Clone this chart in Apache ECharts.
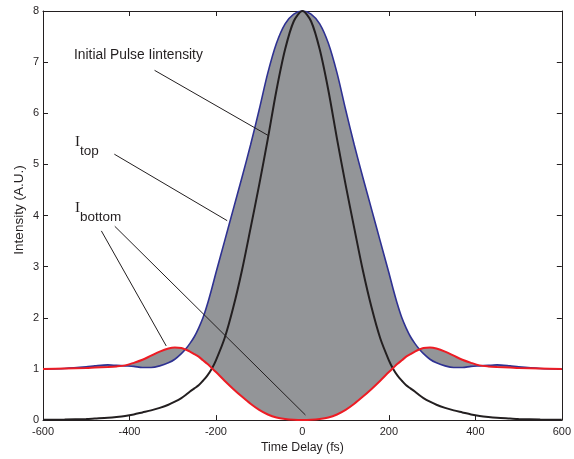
<!DOCTYPE html>
<html>
<head>
<meta charset="utf-8">
<script src="https://cdn.jsdelivr.net/npm/echarts@6/dist/echarts.min.js"></script>
<style>
html,body{margin:0;padding:0;background:#fff;}
#chart{width:574px;height:459px;}
</style>
</head>
<body>
<div id="chart"></div>
<script>
// Time delay samples (fs)
const timeFs = [-600,-550,-500,-480,-450,-430,-410,-390,-370,-350,-330,-310,-295,-280,-270,-260,-250,-240,-230,-220,-210,-200,-180,-160,-140,-120,-100,-80,-60,-40,-20,
  0,
  20,40,60,80,100,120,140,160,180,200,210,220,230,240,250,260,270,280,295,310,330,350,370,390,410,430,450,480,500,550,600];

// Upper envelope I_top (blue)
const iTop = [1.00,1.01,1.04,1.06,1.08,1.07,1.06,1.05,1.03,1.03,1.06,1.12,1.19,1.30,1.39,1.50,1.63,1.80,2.00,2.26,2.56,2.88,3.50,4.12,4.74,5.38,6.07,6.79,7.37,7.75,7.94,
  8.00,
  7.94,7.75,7.37,6.79,6.07,5.38,4.74,4.12,3.50,2.88,2.56,2.26,2.00,1.80,1.63,1.50,1.39,1.30,1.19,1.12,1.06,1.03,1.03,1.05,1.06,1.07,1.08,1.06,1.04,1.01,1.00];

// Lower envelope I_bottom (red)
const iBottom = [1.00,1.01,1.02,1.03,1.04,1.05,1.07,1.12,1.18,1.26,1.34,1.40,1.42,1.41,1.38,1.34,1.29,1.24,1.17,1.10,1.02,0.94,0.77,0.61,0.46,0.32,0.20,0.11,0.05,0.02,0.005,
  0.00,
  0.005,0.02,0.05,0.11,0.20,0.32,0.46,0.61,0.77,0.94,1.02,1.10,1.17,1.24,1.29,1.34,1.38,1.41,1.42,1.40,1.34,1.26,1.18,1.12,1.07,1.05,1.04,1.03,1.02,1.01,1.00];

// Initial pulse intensity (black)
const pulse = [0.005,0.01,0.02,0.03,0.045,0.06,0.08,0.11,0.15,0.19,0.24,0.30,0.36,0.43,0.49,0.56,0.62,0.68,0.77,0.87,1.00,1.17,1.60,2.20,2.92,3.75,4.60,5.50,6.45,7.25,7.80,
  8.00,
  7.80,7.25,6.45,5.50,4.60,3.75,2.92,2.20,1.60,1.17,1.00,0.87,0.77,0.68,0.62,0.56,0.49,0.43,0.36,0.30,0.24,0.19,0.15,0.11,0.08,0.06,0.045,0.03,0.02,0.01,0.005];

// Axis ticks
const xTicks = [-600,-400,-200,0,200,400,600];
const yTicks = [0,1,2,3,4,5,6,7,8];

// Annotation leader lines (data coordinates: [time, intensity])
const leaderPulse = [[-342,6.84],[-78,5.56]];
const leaderTop = [[-435,5.20],[-174,3.90]];
const leaderBottomA = [[-465,3.70],[-315,1.45]];
const leaderBottomB = [[-434,3.79],[7,0.10]];

const pairs = (ys) => timeFs.map((t,i) => [t, ys[i]]);

const ink = '#231f20';
const font = 'Liberation Sans, Arial, sans-serif';

const chart = echarts.init(document.getElementById('chart'), null, {renderer:'canvas'});

const baseX = {
  type:'value', min:xTicks[0], max:xTicks[xTicks.length-1], interval:xTicks[1]-xTicks[0],
  splitLine:{show:false},
  axisLine:{show:true, onZero:false, lineStyle:{color:ink, width:1}},
  axisTick:{show:true, inside:true, length:5, lineStyle:{color:ink}},
};
const baseY = {
  type:'value', min:yTicks[0], max:yTicks[yTicks.length-1], interval:yTicks[1]-yTicks[0],
  splitLine:{show:false},
  axisLine:{show:true, onZero:false, lineStyle:{color:ink, width:1}},
  axisTick:{show:true, inside:true, length:5, lineStyle:{color:ink}},
};

const leader = (d) => ({
  type:'line', data:d, symbol:'none', silent:true, z:5,
  lineStyle:{color:ink, width:1}
});

chart.setOption({
  animation:false,
  backgroundColor:'#fff',
  grid:{left:43, right:9, top:11, bottom:37, containLabel:false},
  xAxis:[
    Object.assign({}, baseX, {position:'bottom',
      name:'Time Delay (fs)', nameLocation:'middle', nameGap:19,
      nameTextStyle:{color:ink, fontFamily:font, fontSize:12.3},
      axisLabel:{color:ink, fontFamily:font, fontSize:11, margin:6}}),
    Object.assign({}, baseX, {position:'top', axisLabel:{show:false}})
  ],
  yAxis:[
    Object.assign({}, baseY, {position:'left',
      axisLabel:{color:ink, fontFamily:font, fontSize:11, margin:4}}),
    Object.assign({}, baseY, {position:'right', axisLabel:{show:false}})
  ],
  series:[
    {type:'custom', name:'fringes', data:[0], silent:true, z:1,
      renderItem:function(params, api){
        const pts = [];
        for (let i=0;i<timeFs.length;i++) pts.push(api.coord([timeFs[i], iTop[i]]));
        for (let i=timeFs.length-1;i>=0;i--) pts.push(api.coord([timeFs[i], iBottom[i]]));
        return {type:'polygon', shape:{points:pts, smooth:0.3}, style:{fill:'#939598', stroke:null}};
      }},
    {type:'line', name:'I_top', data:pairs(iTop), symbol:'none', smooth:0.3, z:3,
      lineStyle:{color:'#2e3192', width:1.6}},
    {type:'line', name:'Initial Pulse Iintensity', data:pairs(pulse), symbol:'none', smooth:0.3, z:4,
      lineStyle:{color:ink, width:2}},
    {type:'line', name:'I_bottom', data:pairs(iBottom), symbol:'none', smooth:0.3, z:4,
      lineStyle:{color:'#ed1c24', width:2}},
    leader(leaderPulse), leader(leaderTop), leader(leaderBottomA), leader(leaderBottomB)
  ],
  graphic:[
    {type:'text', x:19.5, y:210, rotation:Math.PI/2,
      style:{text:'Intensity (A.U.)', fill:ink, font:'13.5px '+font, align:'center', verticalAlign:'middle'}},
    {type:'text', left:74, top:48, style:{text:'Initial Pulse Iintensity', fill:ink, font:'13.8px '+font}},
    {type:'text', left:75, top:135, style:{text:'I', fill:ink, font:'15px Liberation Serif, Times New Roman, serif'}},
    {type:'text', left:80, top:144, style:{text:'top', fill:ink, font:'13.5px '+font}},
    {type:'text', left:75, top:201, style:{text:'I', fill:ink, font:'15px Liberation Serif, Times New Roman, serif'}},
    {type:'text', left:80, top:210, style:{text:'bottom', fill:ink, font:'13.5px '+font}}
  ]
});
</script>
</body>
</html>
